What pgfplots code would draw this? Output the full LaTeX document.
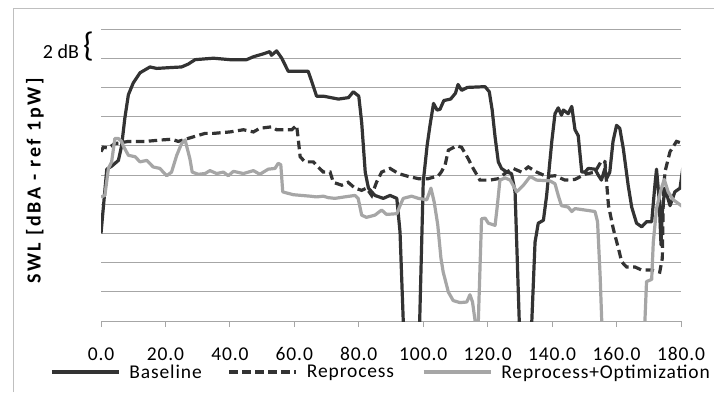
\documentclass[border=0pt]{standalone}
\usepackage{pgfplots}
\pgfplotsset{compat=1.18}
\usepackage{fontspec}
\setmainfont{Carlito}
\newfontfamily\tickfont[LetterSpace=4.5]{Carlito}
\newfontfamily\ylabfont[LetterSpace=13]{Carlito}
\definecolor{dark}{HTML}{333333}
\definecolor{lgray}{HTML}{A6A6A6}
\definecolor{gridc}{HTML}{A6A6A6}
\definecolor{framec}{HTML}{BFBFBF}
\begin{document}
\begin{tikzpicture}[x=1pt,y=1pt]
\useasboundingbox (0,0) rectangle (714,392);
\draw[framec, line width=1pt] (13,0) -- (13,383) -- (714,383);
\begin{axis}[
  at={(101pt,71pt)}, anchor=south west,
  scale only axis, width=580pt, height=292pt,
  xmin=0, xmax=180, ymin=0, ymax=20,
  axis line style={draw=none},
  xtick={0,20,...,180},
  xticklabels={0.0,20.0,40.0,60.0,80.0,100.0,120.0,140.0,160.0,180.0},
  ytick={0,2,...,20}, yticklabel=\empty,
  ymajorgrids, grid style={gridc, line width=1pt},
  xtick pos=left, ytick style={draw=none},
  tick align=outside, major tick length=6pt,
  xtick style={gridc, line width=1pt},
  xticklabel style={font=\fontsize{19.5}{22}\tickfont, yshift=-17pt},
  ylabel={\bfseries SWL [dBA - ref 1pW]},
  ylabel style={at={(axis description cs:-0.1138,0.479)}, anchor=center, font=\fontsize{20}{24}\ylabfont},
  legend columns=3,
  legend style={draw=none, fill=none, at={(axis description cs:-0.0879,-0.1747)}, anchor=west, inner sep=0pt,
    font=\fontsize{19.5}{22}\tickfont,
    /tikz/every odd column/.append style={column sep=7pt},
    /tikz/column 2/.append style={column sep=24pt},
    /tikz/column 4/.append style={column sep=26pt}},
  legend image code/.code={\draw[#1] (0pt,0pt) -- (67pt,0pt);},
]
\addplot[dark, line width=3.2pt, line join=round] coordinates {
(0,6.0)(1.8,10.4)(3.3,10.6)(5.4,11.0)(6.4,12.0)(7.4,13.9)(8.5,15.5)(10.0,16.3)(12.1,17.0)(15.2,17.4)(17.3,17.3)(20.9,17.35)(25.0,17.4)(27.1,17.6)(29.2,17.9)(34.9,18.0)(40.0,17.9)(45.2,17.9)(47.3,18.1)(50.4,18.3)(52.4,18.45)(52.9,18.2)(54.5,18.5)(56.1,18.0)(58.1,17.1)(60.2,17.1)(64.3,17.1)(65.4,16.4)(66.9,15.4)(69.0,15.4)(73.7,15.2)(76.8,15.3)(78.3,15.7)(80.0,15.4)(80.9,13.6)(82.0,10.2)(83.0,9.1)(85.0,8.6)(87.6,8.4)(89.7,8.6)(91.8,8.4)(92.8,6.1)(93.8,0)(94.5,-5)(98.2,-5)(98.9,0)(100.0,9.5)(101.2,12.0)(102.1,13.4)(103.2,14.9)(104.3,14.45)(105.2,14.5)(106.4,15.1)(108.5,15.2)(110.0,15.6)(110.8,16.2)(111.9,15.8)(113.7,16.0)(119.2,16.05)(120.5,15.7)(121.4,14.45)(122.3,12.6)(123.3,10.9)(124.3,10.45)(125.9,10.2)(127.4,10.1)(128.5,8.85)(129.8,0)(130.5,-5)(133.0,-5)(133.7,0)(134.7,5.4)(135.7,6.7)(137.3,6.9)(138.3,8.6)(139.9,12.3)(140.9,14.2)(141.9,14.6)(142.9,14.1)(143.5,14.45)(145.0,14.2)(146.1,14.7)(147.1,13.1)(148.1,12.7)(149.2,10.2)(150.2,10.2)(151.2,10.45)(153.3,10.4)(154.3,10.0)(155.3,9.65)(156.4,10.45)(156.9,9.75)(157.9,10.2)(158.9,12.3)(160.0,13.4)(161.0,13.2)(162.1,11.8)(163.6,9.3)(164.7,7.8)(166.2,6.7)(167.8,6.45)(169.3,6.8)(170.9,6.8)(171.9,9.3)(172.4,10.4)(173.2,8.4)(173.8,5.2)(174.2,7.5)(175.0,9.1)(176.6,7.9)(178.1,8.85)(179.7,9.1)(180.7,10.7)
};
\addlegendentry{Baseline}
\addplot[dark, line width=3.2pt, dash pattern=on 8.5pt off 4.5pt] coordinates {
(0,11.6)(0.7,11.9)(2.3,11.85)(4.3,12.15)(8.5,12.3)(13.7,12.3)(18.8,12.4)(21.9,12.45)(24.0,12.3)(29.2,12.65)(32.3,12.85)(34.9,12.85)(40.0,12.95)(44.2,13.1)(47.3,12.95)(49.3,13.2)(53.0,13.3)(54.5,13.1)(59.2,13.1)(60.7,13.4)(61.2,12.5)(61.8,11.25)(63.3,10.9)(65.9,10.9)(67.4,10.55)(69.0,10.2)(71.1,10.2)(72.1,9.5)(74.7,9.3)(76.7,9.5)(78.8,9.1)(80.9,8.95)(82.4,9.1)(84.0,8.6)(85.5,9.5)(87.1,10.2)(89.7,10.45)(92.3,10.1)(95.4,9.9)(98.5,9.75)(101.6,9.75)(104.7,9.95)(105.6,10.2)(106.8,10.7)(107.8,11.7)(110.4,12.0)(111.9,11.9)(114.0,11.1)(115.5,10.45)(117.6,9.65)(120.7,9.65)(123.3,9.75)(125.9,10.2)(127.9,10.45)(130.5,10.2)(132.6,10.55)(135.2,10.2)(138.3,9.9)(140.9,9.95)(144.0,9.65)(147.1,9.7)(150.2,10.05)(153.3,10.2)(155.4,11.0)(156.4,10.9)(156.9,9.5)(157.5,7.9)(159.0,6.3)(160.6,4.95)(161.6,4.05)(163.1,3.7)(165.7,3.7)(167.7,3.5)(170.8,3.5)(173.4,3.35)(174.2,4.3)(174.5,8.4)(175.0,10.2)(176.6,11.6)(178.6,12.3)(180.7,12.15)
};
\addlegendentry{Reprocess}
\addplot[lgray, line width=3.2pt, line join=round] coordinates {
(0,8.5)(1.2,8.6)(2.3,10.45)(3.3,10.9)(4.3,12.5)(5.4,12.5)(6.4,12.3)(6.9,12.0)(8.5,11.35)(10.6,11.25)(12.1,10.9)(14.2,11.0)(16.2,10.55)(18.3,10.45)(19.3,10.2)(20.4,9.95)(21.9,10.2)(23.5,11.35)(25.0,12.15)(26.1,12.4)(27.6,11.1)(28.3,10.2)(30.2,10.05)(32.3,10.1)(33.8,10.3)(35.9,10.1)(38.0,10.2)(39.5,9.95)(41.1,10.25)(44.2,10.1)(47.3,10.3)(49.3,10.05)(51.9,10.4)(54.0,10.45)(55.0,10.8)(55.8,10.7)(56.4,8.85)(57.1,8.8)(59.7,8.65)(62.3,8.6)(64.9,8.55)(66.9,8.5)(69.0,8.55)(70.5,8.45)(72.6,8.4)(75.6,8.5)(78.8,8.6)(79.8,8.4)(80.9,7.25)(82.4,7.1)(85.0,7.25)(87.1,7.6)(88.6,7.3)(91.8,7.35)(92.8,7.9)(93.8,8.4)(96.4,8.55)(98.5,8.4)(101.1,8.3)(102.4,9.1)(103.4,8.15)(104.5,6.6)(105.5,4.3)(106.2,3.35)(107.8,1.98)(109.3,1.4)(111.4,1.26)(113.5,1.3)(114.5,1.8)(115.3,1.3)(116.1,0)(116.4,-2)(116.8,-2)(117.1,0)(118.1,7.0)(119.2,7.05)(120.2,6.7)(122.3,6.55)(123.0,7.9)(123.8,9.65)(125.4,9.8)(127.0,9.65)(129.0,8.85)(131.1,9.3)(133.2,9.9)(135.2,9.65)(139.3,9.6)(140.9,9.4)(141.9,8.6)(142.9,7.9)(145.0,7.8)(146.1,7.5)(147.1,7.7)(150.2,7.6)(153.3,7.5)(154.1,6.8)(154.9,3.1)(155.4,0)(155.8,-3)(168.4,-3)(168.8,0)(169.3,2.7)(170.9,2.85)(171.4,5.4)(172.4,7.7)(173.8,9.0)(174.8,9.7)(176.0,8.85)(177.6,8.3)(180.7,7.8)
};
\addlegendentry{Reprocess+Optimization}
\end{axis}
\node[anchor=base, font=\fontsize{20}{24}\selectfont] at (61,334) {2 dB};
\node[font=\fontsize{34}{40}\selectfont] at (88.5,345.5) {\{};
\end{tikzpicture}
\end{document}
